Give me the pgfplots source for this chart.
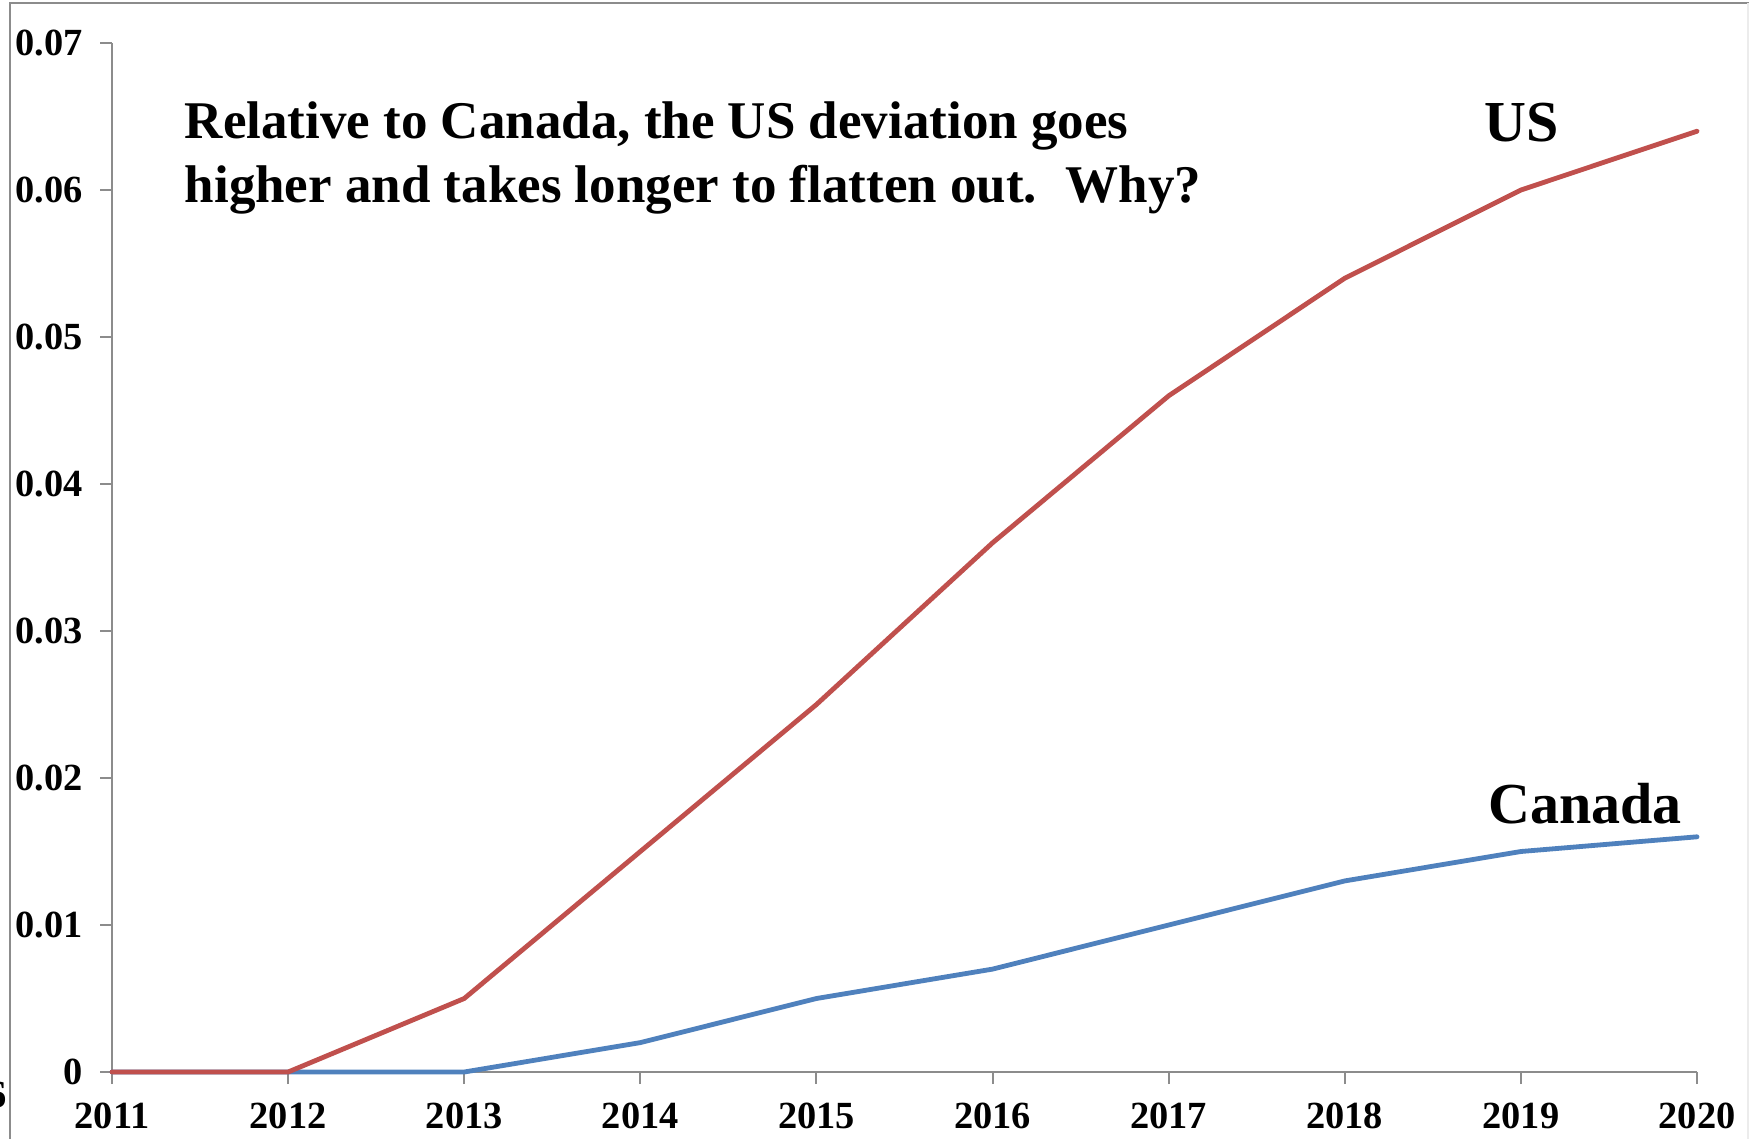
\documentclass[border=0pt]{standalone}
\usepackage{fontspec}
\setmainfont{Liberation Serif}
\usepackage{pgfplots}
\pgfplotsset{compat=1.18}
\definecolor{usred}{HTML}{C0504D}
\definecolor{cablue}{HTML}{4F81BD}
\definecolor{axgray}{HTML}{8C8C8C}
\begin{document}
\begin{tikzpicture}[x=0.25pt,y=0.25pt]
\useasboundingbox (0,0) rectangle (1749,1138);
\fill[white] (0,0) rectangle (1749,1138);
\draw[axgray, line width=0.5pt] (10,-5) -- (10,1135) -- (1760,1135);
\draw[gray!15, line width=0.5pt] (1748,-5) -- (1748,1135);
\node[anchor=base east, font=\fontsize{9.6pt}{11pt}\selectfont\bfseries, inner sep=0pt] at (8,31) {6};
\begin{axis}[
  at={(28pt,16.5pt)}, anchor=south west, scale only axis,
  width=396.25pt, height=257.25pt,
  xmin=2011, xmax=2020, ymin=0, ymax=0.07,
  clip=false,
  scaled y ticks=false, scaled x ticks=false,
  axis x line=bottom, axis y line=left,
  axis line style={-, axgray, line width=0.5pt},
  tick align=outside, major tick length=3pt,
  tick style={axgray, line width=0.5pt},
  xtick={2011,2012,2013,2014,2015,2016,2017,2018,2019,2020},
  xticklabels={2011,2012,2013,2014,2015,2016,2017,2018,2019,2020},
  ytick={0,0.01,0.02,0.03,0.04,0.05,0.06,0.07},
  yticklabels={0,0.01,0.02,0.03,0.04,0.05,0.06,0.07},
  ticklabel style={font=\fontsize{9.6pt}{11pt}\selectfont\bfseries},
  yticklabel style={xshift=-0.8pt},
  xticklabel style={yshift=-1.2pt},
]
\addplot[cablue, line width=1.2pt, line join=round, line cap=round] coordinates {
 (2011,0) (2012,0) (2013,0) (2014,0.002) (2015,0.005) (2016,0.007) (2017,0.010) (2018,0.013) (2019,0.015) (2020,0.016)};
\addplot[usred, line width=1.2pt, line join=round, line cap=round] coordinates {
 (2011,0) (2012,0) (2013,0.005) (2014,0.015) (2015,0.025) (2016,0.036) (2017,0.046) (2018,0.054) (2019,0.060) (2020,0.064)};
\end{axis}
\node[anchor=base west, align=left, inner sep=0pt, font=\fontsize{13.25pt}{16pt}\selectfont\bfseries] at (184,935)
 {Relative to Canada, the US deviation goes\\higher and takes longer to flatten out.\hspace{0.54em}Why?};
\node[anchor=base, inner sep=0pt, font=\fontsize{14.5pt}{17pt}\selectfont\bfseries] at (1522,996) {US};
\node[anchor=base, inner sep=0pt, font=\fontsize{14.5pt}{17pt}\selectfont\bfseries] at (1585,315) {Canada};
\end{tikzpicture}
\end{document}
